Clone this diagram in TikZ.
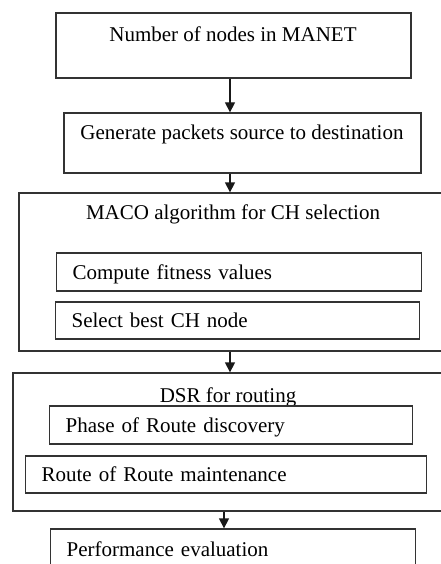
\documentclass[tikz,border=0pt]{standalone}
\usepackage{fontspec}
\setmainfont{Liberation Serif}
\usetikzlibrary{arrows.meta}

\begin{document}
\begin{tikzpicture}[
    x=1pt, y=-1pt,
    font=\fontsize{21}{25}\selectfont,
    box/.style={draw=black!80, line width=1.3pt, rectangle, inner sep=0pt},
    inbox/.style={box, anchor=west, minimum height=38pt, text height=15pt, text depth=1pt, align=left, inner xsep=16pt},
    title/.style={anchor=base, inner sep=0pt},
    arrow/.style={-{Triangle[width=10pt,length=10pt]}, line width=1.3pt, draw=black!90}
]
\useasboundingbox (0,0) rectangle (441,564);
\clip (0,0) rectangle (441,564);

% Input steps
\node[box, minimum width=355pt, minimum height=65pt] (manet) at (233.5,45.5) {};
\node[title] (manettxt) at (233,42) {Number of nodes in MANET};
\node[box, minimum width=357pt, minimum height=60pt] (packets) at (242.5,143) {};
\node[title] (packetstxt) at (242,140) {Generate packets source to destination};

% MACO block
\node[box, minimum width=441pt, minimum height=158pt] (maco) at (239.5,272) {};
\node[title] (macotxt) at (233,219) {MACO algorithm for CH selection};
\node[inbox, text width=333pt] (fitness) at (56,272) {Compute fitness values};
\node[inbox, text width=332pt, minimum height=37pt] (select) at (55,320.5) {Select best CH node};

% DSR block
\node[box, minimum width=446pt, minimum height=138pt] (dsr) at (236,442) {};
\node[title] (dsrtxt) at (228,402) {DSR for routing};
\node[inbox, text width=331pt] (discovery) at (49,425) {Phase of Route discovery};
\node[inbox, text width=369pt, minimum height=37pt] (maint) at (25,474.5) {Route of Route maintenance};

% Output
\node[inbox, text width=333pt, minimum height=40pt] (perf) at (50,549) {Performance evaluation};

% Connectors
\coordinate (spine) at (230,0);
\coordinate (spinelow) at (224,0);
\draw[arrow] (manet.south -| spine) -- (packets.north -| spine);
\draw[arrow] (packets.south -| spine) -- (maco.north -| spine);
\draw[arrow] (maco.south -| spine) -- (dsr.north -| spine);
\draw[arrow] (dsr.south -| spinelow) -- (perf.north -| spinelow);

\end{tikzpicture}
\end{document}
